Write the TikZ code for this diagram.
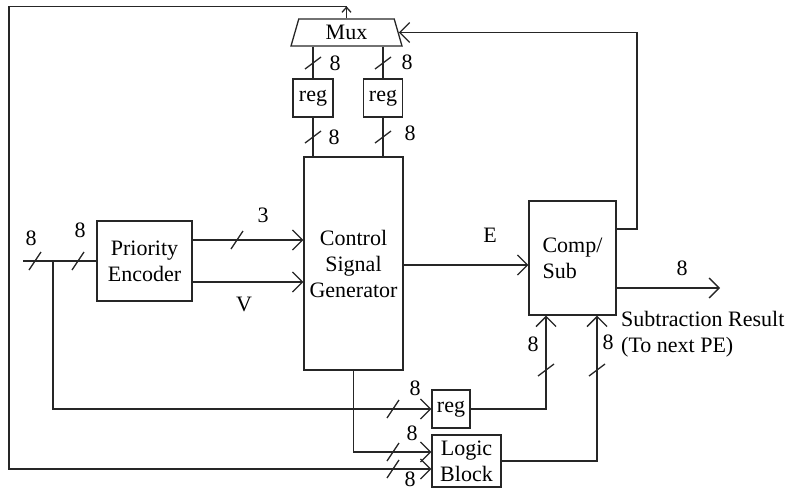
\documentclass[tikz,border=0pt]{standalone}
\usepackage{fontspec}
\setmainfont{Liberation Serif}
\usetikzlibrary{arrows.meta,shapes.geometric}

\newcommand{\bush}[1]{\draw[wire] (#1) +(-6,9) -- +(6,-9);}
\newcommand{\busv}[1]{\draw[wire] (#1) +(-8,6) -- +(8,-6);}

\begin{document}
\begin{tikzpicture}[x=1pt, y=-1pt,
  every node/.style={font=\fontsize{22}{26}\selectfont},
  wire/.style={line width=1.3pt, draw=black!85},
  block/.style={draw=black!85, line width=1.3pt, inner sep=0pt, align=center},
  arrow/.style={wire, -{Straight Barb[length=10pt,width=20pt]}},
  smallarrow/.style={wire, -{Straight Barb[length=5pt,width=9pt]}},
  lbl/.style={inner sep=0pt}
]
\useasboundingbox (0,0) rectangle (792,491);

\node[block, trapezium, trapezium stretches body, trapezium left angle=62,
      trapezium right angle=62, minimum width=111, minimum height=27] (mux) at (346.5,32.5) {Mux};
\node[block, minimum width=40, minimum height=38] (regl) at (313,98) {reg};
\node[block, minimum width=39, minimum height=38] (regr) at (383,98) {reg};
\node[block, minimum width=99, minimum height=213] (csg) at (353.5,263.5) {Control\\Signal\\Generator};
\node[block, minimum width=95, minimum height=80] (pe) at (144.5,261) {Priority\\Encoder};
\node[block, minimum width=87, minimum height=114, align=left] (cs) at (572.5,258) {Comp/\\Sub};
\node[block, minimum width=38, minimum height=38] (regb) at (451,409) {reg};
\node[block, minimum width=69, minimum height=52] (logic) at (466.5,461) {Logic\\Block};

\coordinate (in) at (23,261);
\coordinate (split) at (53,261);
\coordinate (out) at (720,288);
\coordinate (fb) at (637,0);
\coordinate (corner) at (9,469);

\draw[wire] (in) -- (pe.west);
\draw[arrow] (split) |- (regb.west);
\draw[arrow] (pe.east |- 0,240) -- (csg.west |- 0,240);
\draw[arrow] (pe.east |- 0,282) -- (csg.west |- 0,282);
\draw[arrow] (csg.east |- 0,265) -- (cs.west |- 0,265);
\draw[arrow] (cs.east |- 0,288) -- (out);
\draw[arrow] (cs.east |- 0,229) -| (fb |- mux.east) -- (mux.east);
\draw[wire] (mux.south -| regl) -- (regl.north);
\draw[wire] (mux.south -| regr) -- (regr.north);
\draw[wire] (regl.south) -- (csg.north -| regl);
\draw[wire] (regr.south) -- (csg.north -| regr);
\draw[arrow] (csg.south) |- (logic.west |- 0,452);
\draw[arrow] (regb.east) -| (cs.south -| 546,0);
\draw[arrow] (logic.east) -| (cs.south -| 597,0);
\draw[smallarrow] (mux.north) -- ++(0,-12) coordinate (top);
\draw[arrow] (top) -| (corner) -- (logic.west |- corner);

\bush{35,261} \bush{78,261} \bush{237,240}
\bush{393,409} \bush{393,452} \bush{393,469}
\busv{regl |- 0,63} \busv{regr |- 0,63}
\busv{regl |- 0,137} \busv{regr |- 0,137}
\busv{546,370} \busv{597,370}

\node[lbl] (w1) at (31,238) {8};
\node[lbl] (w2) at (80,230) {8};
\node[lbl] (w3) at (263,215) {3};
\node[lbl] (v) at (244,304) {V};
\node[lbl] (e) at (490,235) {E};
\node[lbl] (w4) at (335,63) {8};
\node[lbl] (w5) at (407,62) {8};
\node[lbl] (w6) at (334,137) {8};
\node[lbl] (w7) at (410,133) {8};
\node[lbl] (w8) at (682,268) {8};
\node[lbl, anchor=west, align=left] (res) at (621,334) {Subtraction Result\\(To next PE)};
\node[lbl] (w9) at (533,344) {8};
\node[lbl] (w10) at (608,342) {8};
\node[lbl] (w11) at (415,388) {8};
\node[lbl] (w12) at (412,433) {8};
\node[lbl] (w13) at (410,479) {8};
\end{tikzpicture}
\end{document}
